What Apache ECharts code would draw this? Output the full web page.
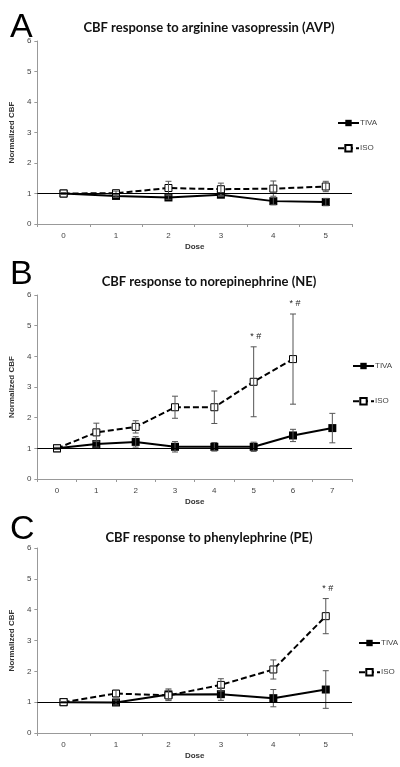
<!DOCTYPE html>
<html><head><meta charset="utf-8">
<script src="https://cdn.jsdelivr.net/npm/echarts@6/dist/echarts.min.js"></script>
<style>html,body{margin:0;padding:0;background:#fff}#c{width:400px;height:767px}</style>
</head><body><div id="c"></div>
<script>
// Panel A: arginine vasopressin
const doseA = ['0','1','2','3','4','5'];
const tivaA = [1.0, 0.92, 0.87, 0.96, 0.75, 0.72];
const tivaAErr = [0.03, 0.05, 0.06, 0.05, 0.12, 0.12];
const isoA = [1.0, 1.01, 1.18, 1.14, 1.16, 1.23];
const isoAErr = [0.03, 0.07, 0.22, 0.2, 0.25, 0.17];
const sigA = ['', '', '', '', '', ''];
// Panel B: norepinephrine
const doseB = ['0','1','2','3','4','5','6','7'];
const tivaB = [1.0, 1.14, 1.21, 1.05, 1.05, 1.05, 1.42, 1.66];
const tivaBErr = [0.03, 0.1, 0.17, 0.17, 0.14, 0.15, 0.2, 0.48];
const isoB = [1.0, 1.52, 1.70, 2.34, 2.34, 3.17, 3.91, null];
const isoBErr = [0.03, 0.3, 0.2, 0.36, 0.53, 1.14, 1.47, null];
const sigB = ['', '', '', '', '', '* #', '* #', ''];
// Panel C: phenylephrine
const doseC = ['0','1','2','3','4','5'];
const tivaC = [1.0, 0.99, 1.25, 1.26, 1.13, 1.41];
const tivaCErr = [0.02, 0.08, 0.18, 0.2, 0.28, 0.61];
const isoC = [1.0, 1.28, 1.22, 1.56, 2.06, 3.79];
const isoCErr = [0.02, 0.1, 0.17, 0.2, 0.31, 0.57];
const sigC = ['', '', '', '', '', '* #'];

const titles = ['CBF response to arginine vasopressin (AVP)', 'CBF response to norepinephrine (NE)', 'CBF response to phenylephrine (PE)'];
const letters = ['A', 'B', 'C'];
const yTicks = [0, 1, 2, 3, 4, 5, 6];
const refValue = 1;

const panels = [
  {dose: doseA, tiva: tivaA, tivaErr: tivaAErr, iso: isoA, isoErr: isoAErr, sig: sigA},
  {dose: doseB, tiva: tivaB, tivaErr: tivaBErr, iso: isoB, isoErr: isoBErr, sig: sigB},
  {dose: doseC, tiva: tivaC, tivaErr: tivaCErr, iso: isoC, isoErr: isoCErr, sig: sigC}
];

const layout = [
  {top: 41, height: 183, titleY: 16, letterY: 37, legendTop: 114, legendLeft: 332, legendGap: 17},
  {top: 295, height: 184, titleY: 270, letterY: 284, legendTop: 357, legendLeft: 347, legendGap: 27},
  {top: 548, height: 185, titleY: 526, letterY: 539, legendTop: 634, legendLeft: 353, legendGap: 21}
];

const font = 'Liberation Sans, Arial, sans-serif';

function errRender(vals, errs, sig) {
  return function (params, api) {
    const i = api.value(0);
    const v = vals[i], e = errs[i];
    if (v == null) return;
    const hi = api.coord([i, v + e]);
    const lo = api.coord([i, v - e]);
    const cw = 3;
    const st = {stroke: '#555', lineWidth: 1};
    const children = [
      {type: 'line', shape: {x1: hi[0], y1: hi[1], x2: lo[0], y2: lo[1]}, style: st},
      {type: 'line', shape: {x1: hi[0] - cw, y1: hi[1], x2: hi[0] + cw, y2: hi[1]}, style: st},
      {type: 'line', shape: {x1: lo[0] - cw, y1: lo[1], x2: lo[0] + cw, y2: lo[1]}, style: st}
    ];
    if (sig && sig[i]) {
      children.push({type: 'text', style: {x: hi[0] + 2, y: hi[1] - 6, text: sig[i], align: 'center', verticalAlign: 'bottom', font: '9px ' + font, fill: '#222'}});
    }
    return {type: 'group', children: children};
  };
}

const grid = [], xAxis = [], yAxis = [], series = [], title = [], legend = [], graphic = [];
panels.forEach((p, k) => {
  const L = layout[k];
  grid.push({left: 33, width: 319, top: L.top, height: L.height});
  xAxis.push({
    type: 'category', gridIndex: k, data: p.dose, boundaryGap: true,
    name: 'Dose', nameLocation: 'middle', nameGap: 19,
    nameTextStyle: {fontSize: 8, fontWeight: 'bold', color: '#333', fontFamily: font},
    axisLine: {lineStyle: {color: '#999', width: 1}},
    axisTick: {show: true, length: 3, lineStyle: {color: '#999'}},
    axisLabel: {fontSize: 8, color: '#444', margin: 8, fontFamily: font}
  });
  yAxis.push({
    type: 'value', gridIndex: k, min: 0, max: 6, interval: 1,
    name: 'Normalized CBF', nameLocation: 'middle', nameGap: 11,
    nameTextStyle: {fontSize: 8, fontWeight: 'bold', color: '#333', fontFamily: font},
    axisLine: {show: true, lineStyle: {color: '#999', width: 1}},
    axisTick: {show: true, length: 3, lineStyle: {color: '#999'}},
    splitLine: {show: false},
    axisLabel: {fontSize: 8, color: '#444', margin: 6, fontFamily: font}
  });
  series.push({
    name: 'TIVA', type: 'line', xAxisIndex: k, yAxisIndex: k, data: p.tiva,
    symbol: 'rect', symbolSize: 8, itemStyle: {color: '#000'},
    lineStyle: {color: '#000', width: 2}, z: 3,
    markLine: {silent: true, symbol: 'none', label: {show: false},
      lineStyle: {color: '#000', width: 1, type: 'solid'}, data: [{yAxis: refValue}]}
  });
  series.push({
    name: 'ISO', type: 'line', xAxisIndex: k, yAxisIndex: k, data: p.iso,
    symbol: 'rect', symbolSize: 7, itemStyle: {color: '#fff', borderColor: '#000', borderWidth: 1},
    lineStyle: {color: '#000', width: 2, type: [6, 3]}, z: 3
  });
  series.push({
    type: 'custom', xAxisIndex: k, yAxisIndex: k, z: 4,
    renderItem: errRender(p.tiva, p.tivaErr, null),
    data: p.tiva.map((v, i) => [i, v])
  });
  series.push({
    type: 'custom', xAxisIndex: k, yAxisIndex: k, z: 4,
    renderItem: errRender(p.iso, p.isoErr, p.sig),
    data: p.iso.map((v, i) => [i, v == null ? 0 : v])
  });
  title.push({
    text: titles[k], left: 204, top: L.titleY, textAlign: 'center',
    textStyle: {fontSize: 13, fontWeight: 'bold', color: '#111', fontFamily: 'Lato, ' + font}
  });
  legend.push({
    data: ['TIVA', 'ISO'], orient: 'vertical', left: L.legendLeft, top: L.legendTop,
    itemWidth: 21, itemHeight: 8, itemGap: L.legendGap, selectedMode: false,
    textStyle: {fontSize: 8, color: '#444', padding: [0, 0, 0, -4], fontFamily: font},
    seriesIndex: [k * 4, k * 4 + 1]
  });
  graphic.push({
    type: 'text', left: 10, top: L.letterY - 26,
    style: {text: letters[k], font: '34px ' + font, fill: '#000'}
  });
});

const chart = echarts.init(document.getElementById('c'), null, {renderer: 'canvas'});
chart.setOption({
  animation: false, backgroundColor: '#fff',
  title, legend, grid, xAxis, yAxis, series, graphic
});
</script></body></html>
